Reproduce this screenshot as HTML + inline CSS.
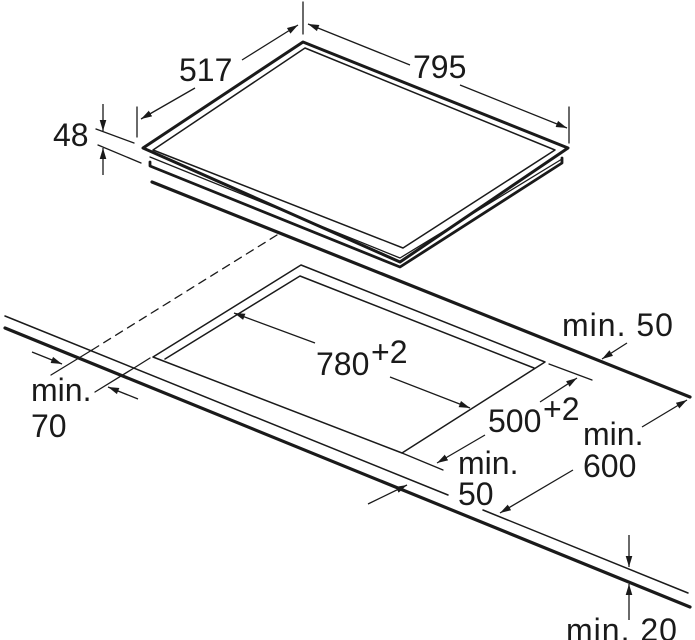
<!DOCTYPE html>
<html><head><meta charset="utf-8"><style>
html,body{margin:0;padding:0;background:#fff}
svg{display:block}
text{font-family:"Liberation Sans",sans-serif;font-size:32px;fill:#1a1a1a}
</style></head><body>
<svg width="695" height="640" viewBox="0 0 695 640" xmlns="http://www.w3.org/2000/svg">
<defs>
<marker id="a" viewBox="0 0 10 6" refX="10" refY="3" markerWidth="11" markerHeight="7" markerUnits="userSpaceOnUse" orient="auto">
<path d="M0,0 L10,3 L0,6 Z" fill="#1a1a1a"/></marker>
</defs>
<g stroke="#1a1a1a" fill="none" stroke-linecap="round" stroke-linejoin="round">
<path d="M143,148 L303,42 L568,148 L400,262 Z" stroke-width="3"/>
<path d="M153,150 L305,48 L555,150 L403,248 Z" stroke-width="1.5"/>
<path d="M150,157 L400,258 L562,159" stroke-width="1.3"/>
<path d="M150,162 L150,166 L400,267 L562,163 L562,158" stroke-width="2.8"/>
<line x1="152" y1="182" x2="690" y2="397" stroke-width="3.2"/>
<line x1="5" y1="316" x2="448" y2="495" stroke-width="1.5"/>
<line x1="483" y1="510" x2="688" y2="593" stroke-width="1.5"/>
<line x1="5" y1="328" x2="690" y2="607" stroke-width="3.2"/>
<line x1="277" y1="235" x2="92" y2="350" stroke-width="1.3" stroke-dasharray="8,6"/>
<line x1="92" y1="350" x2="51" y2="375" stroke-width="1.3"/>
<line x1="150" y1="358" x2="134" y2="368" stroke-width="1.3"/>
<line x1="134" y1="368" x2="95" y2="392" stroke-width="1.3"/>
<path d="M153,357 L301,265 L545,362 L402,453 L153,357" stroke-width="1.5"/>
<path d="M165,359 L300,276 L534,368" stroke-width="1.5"/>
<line x1="402" y1="453" x2="443" y2="470" stroke-width="1.3"/>
<line x1="549" y1="364" x2="592" y2="380" stroke-width="1.3"/>
<line x1="303" y1="2" x2="303" y2="34" stroke-width="1.3"/>
<line x1="137" y1="107" x2="137" y2="137" stroke-width="1.3"/>
<line x1="569" y1="107" x2="569" y2="143" stroke-width="1.3"/>
<line x1="96" y1="129" x2="134" y2="143" stroke-width="1.3"/>
<line x1="98" y1="145" x2="141" y2="163" stroke-width="1.3"/>
</g>
<g stroke="#1a1a1a" stroke-width="1.3" marker-end="url(#a)">
<line x1="242" y1="60" x2="298" y2="25"/>
<line x1="195" y1="88" x2="141" y2="119"/>
<line x1="410" y1="65" x2="308" y2="24"/>
<line x1="460" y1="85" x2="567" y2="128"/>
<line x1="103" y1="104" x2="103" y2="131"/>
<line x1="103" y1="175" x2="103" y2="148"/>
<line x1="32" y1="352" x2="62" y2="364"/>
<line x1="138" y1="399" x2="108" y2="387"/>
<line x1="315" y1="343" x2="234" y2="313"/>
<line x1="390" y1="377" x2="470" y2="408"/>
<line x1="540" y1="402" x2="577" y2="378"/>
<line x1="485" y1="435" x2="437" y2="463"/>
<line x1="627" y1="343" x2="602" y2="359"/>
<line x1="642" y1="427" x2="687" y2="400"/>
<line x1="573" y1="470" x2="500" y2="513"/>
<line x1="368" y1="504" x2="407" y2="485"/>
<line x1="629" y1="535" x2="629" y2="567"/>
<line x1="629" y1="620" x2="629" y2="584"/>
</g>
<text x="179" y="81">517</text>
<text x="413" y="78">795</text>
<text x="53" y="146">48</text>
<text x="562" y="336" letter-spacing="1">min. 50</text>
<text x="316" y="375">780</text><text x="371" y="363" font-size="21">+2</text>
<text x="488" y="432">500</text><text x="543" y="420" font-size="21">+2</text>
<text x="458" y="474">min.</text>
<text x="458" y="505">50</text>
<text x="583" y="445">min.</text>
<text x="583" y="477">600</text>
<text x="31" y="401">min.</text>
<text x="31" y="437">70</text>
<text x="566" y="641" letter-spacing="1">min. 20</text>
</svg>
</body></html>
